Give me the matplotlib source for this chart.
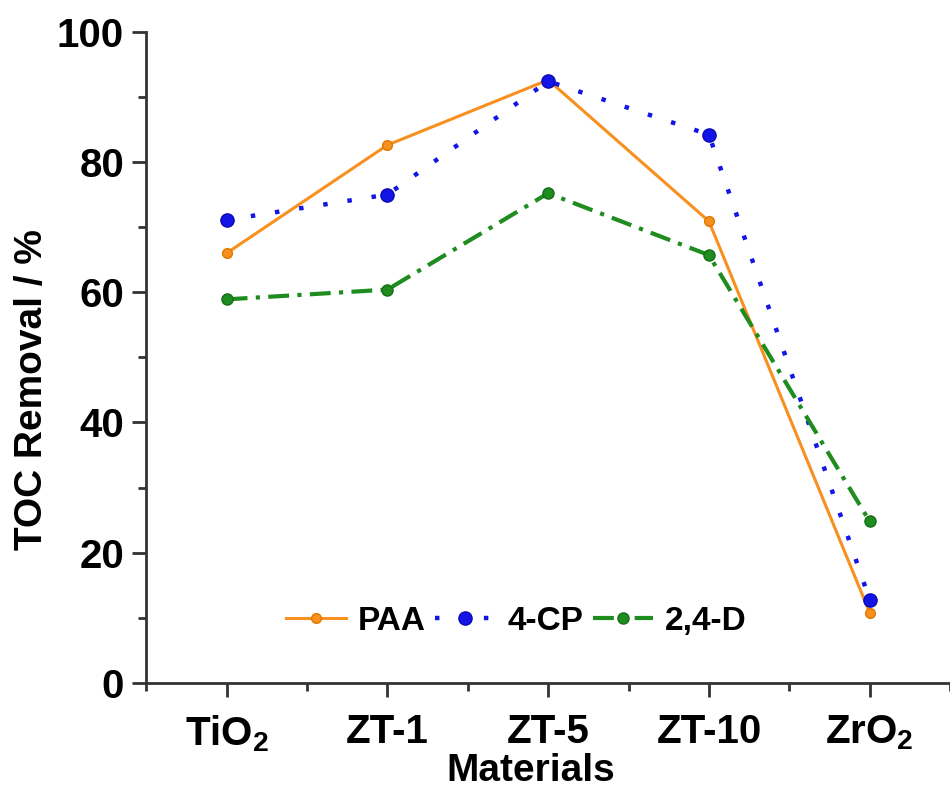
import matplotlib
matplotlib.use("Agg")
import matplotlib.pyplot as plt
from matplotlib.ticker import MultipleLocator

# ==========================
# Dados
# ==========================
materials = ["TiO$_2$", "ZT-1", "ZT-5", "ZT-10", "ZrO$_2$"]
paa = [66.0, 82.6, 92.6, 70.9, 10.8]
cp4 = [71.1, 75.0, 92.4, 84.2, 12.8]
d24 = [58.9, 60.4, 75.2, 65.7, 24.8]

plt.rcParams["font.family"] = ["Liberation Sans", "DejaVu Sans"]
plt.rcParams["font.weight"] = "bold"
plt.rcParams["mathtext.fontset"] = "custom"
plt.rcParams["mathtext.rm"] = "Liberation Sans:bold"
plt.rcParams["mathtext.it"] = "Liberation Sans:bold"
plt.rcParams["mathtext.bf"] = "Liberation Sans:bold"


def toc_chart():
    fig = plt.figure(figsize=(9.5, 7.94), dpi=100)
    ax = fig.add_axes([0.154, 0.140, 0.846, 0.820])

    x = range(len(materials))

    ax.plot(x, paa, color="#F7901E", lw=2.2, ls="-",
            marker="o", ms=7, mec="#E07800", label="PAA")
    ax.plot(x, cp4, color="#1414E6", lw=3.2, ls=(0, (1, 4.5)),
            marker="o", ms=9.5, mec="#0A0AB4", label="4-CP")
    ax.plot(x, d24, color="#1E8C1E", lw=3.0, ls=(0, (5, 2, 1, 2)),
            marker="o", ms=8, mec="#146E14", label="2,4-D")

    ax.set_xlim(-0.5, 4.5)
    ax.set_ylim(0, 100)
    ax.set_xticks(list(x))
    ax.set_xticklabels(materials)
    ax.xaxis.set_minor_locator(MultipleLocator(0.5))
    ax.yaxis.set_major_locator(MultipleLocator(20))
    ax.yaxis.set_minor_locator(MultipleLocator(10))

    for side in ["top", "right"]:
        ax.spines[side].set_visible(False)
    for side in ["left", "bottom"]:
        ax.spines[side].set_linewidth(2)
        ax.spines[side].set_color("#333333")

    ax.tick_params(which="major", direction="out", length=10, width=2,
                   labelsize=29, color="#333333", pad=6)
    ax.tick_params(which="minor", direction="out", length=6, width=2,
                   color="#333333")
    ax.tick_params(axis="x", pad=12)

    ax.set_xlabel("Materials", fontsize=28, fontweight="bold")
    ax.xaxis.set_label_coords(0.478, -0.108)
    ax.set_ylabel("TOC Removal / %", fontsize=28, fontweight="bold")
    ax.yaxis.set_label_coords(-0.12, 0.45)

    ax.legend(loc="center", bbox_to_anchor=(0.46, 0.094), ncol=3, frameon=False,
              fontsize=24, handlelength=1.8, handletextpad=0.35,
              columnspacing=0.3, borderpad=0)

    fig.savefig("out.png", dpi=100)


def main():
    toc_chart()


if __name__ == "__main__":
    main()
